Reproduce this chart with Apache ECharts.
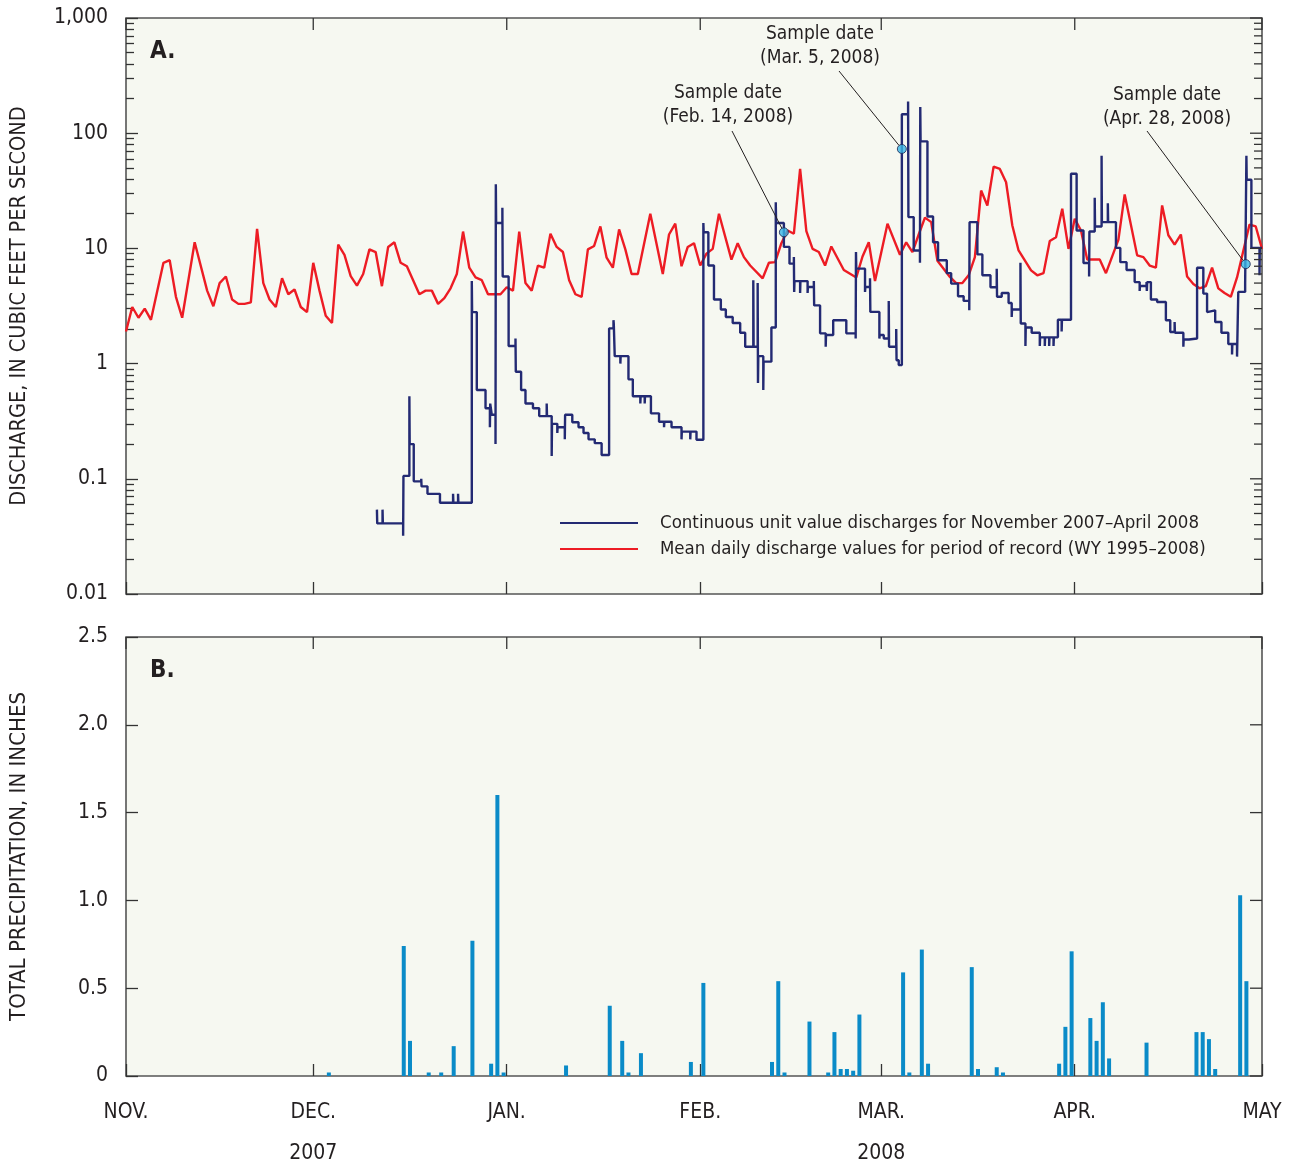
<!DOCTYPE html>
<html>
<head>
<meta charset="utf-8">
<script src="https://cdn.jsdelivr.net/npm/echarts@6.0.0/dist/echarts.min.js"></script>
<style>
  html, body { margin: 0; padding: 0; background: #fff; }
  #chart { width: 1299px; height: 1164px; }
</style>
</head>
<body>
<div id="chart"></div>
<script>
// days are counted from Nov. 1, 2007
const monthDays = [0, 30, 61, 92, 121, 152, 182];
const monthLabels = ['NOV.', 'DEC.', 'JAN.', 'FEB.', 'MAR.', 'APR.', 'MAY'];
const yearLabels = ['', '2007', '', '', '2008', '', ''];
const discharLabels = ['0.01', '0.1', '1', '10', '100', '1,000'];
const precipTicks = [0, 0.5, 1, 1.5, 2, 2.5];

// mean daily discharge, period of record
const redDays = [0, 1, 2, 3, 4, 6, 7, 8, 9, 11, 13, 14, 15, 16, 17, 18, 19, 20, 21, 22,
  23, 24, 25, 26, 27, 28, 29, 30, 31, 32, 33, 34, 35, 36, 37, 38, 39, 40, 41, 42,
  43, 44, 45, 46, 47, 48, 49, 50, 51, 52, 53, 54, 55, 56, 57, 58, 60, 61, 62, 63,
  64, 65, 66, 67, 68, 69, 70, 71, 72, 73, 74, 75, 76, 77, 78, 79, 80, 81, 82, 84,
  86, 87, 88, 89, 90, 91, 92, 93, 94, 95, 97, 98, 99, 100, 102, 103, 104, 105, 106, 107,
  108, 109, 110, 111, 112, 113, 115, 117, 118, 119, 120, 122, 124, 125, 126, 127, 128, 129, 130, 132,
  133, 134, 135, 136, 137, 138, 139, 140, 141, 142, 143, 145, 146, 147, 148, 149, 150, 151, 152, 153,
  154, 156, 157, 159, 160, 162, 163, 164, 165, 166, 167, 168, 169, 170, 171, 172, 173, 174, 175, 176,
  177, 178, 180, 181, 182];
const redValues = [1.9, 3.1, 2.5, 3.0, 2.4, 7.5, 7.9, 3.8, 2.5, 11.3, 4.3, 3.15, 5.0, 5.7, 3.6, 3.3, 3.3, 3.4, 14.8, 5.0,
  3.6, 3.1, 5.5, 4.0, 4.4, 3.1, 2.8, 7.5, 4.3, 2.6, 2.25, 10.8, 8.8, 5.75, 4.75, 6.0, 9.8, 9.3, 4.7, 10.3,
  11.3, 7.5, 7.0, 5.3, 4.0, 4.3, 4.3, 3.3, 3.7, 4.5, 6.0, 14.0, 6.8, 5.6, 5.3, 4.0, 4.0, 4.6, 4.3, 14.0,
  5.0, 4.3, 7.1, 6.8, 13.4, 10.3, 9.3, 5.3, 4.0, 3.8, 9.8, 10.5, 15.5, 8.3, 6.8, 14.6, 9.8, 6.0, 6.0, 20,
  6.0, 13.2, 16.4, 7.0, 10.3, 11.1, 7.1, 9.0, 9.9, 20, 8.0, 11.1, 8.4, 7.1, 5.5, 7.5, 7.6, 11.1, 14.3, 13.4,
  49, 14.1, 9.9, 9.3, 7.1, 10.4, 6.5, 5.6, 8.5, 11.3, 5.2, 16.4, 8.8, 11.3, 9.3, 13.2, 18.5, 16.9, 7.8, 5.65,
  5.0, 5.0, 5.84, 8.4, 31.8, 23.6, 51.3, 49, 37.5, 15.8, 9.6, 6.45, 5.84, 6.1, 11.6, 12.5, 22.1, 9.9, 18.1, 14.3,
  8.0, 8.0, 6.1, 11.9, 29.4, 8.7, 8.4, 7.1, 6.8, 23.6, 13, 10.8, 13.2, 5.7, 4.9, 4.5, 4.7, 6.8, 4.5, 4.1,
  3.8, 5.6, 16.1, 15.5, 9.9];

// continuous unit values, Nov. 2007 - Apr. 2008 (step line)
const blueDays = [40.2, 40.25, 41.1, 41.15, 44.4, 44.45, 45.4, 45.45, 46.1, 47.3, 47.35, 48.3, 50.3, 52.4, 52.45, 53.2, 53.25,
  55.4, 55.45, 56.2, 57.6, 58.3, 58.35, 58.6, 59.2, 59.25, 59.3, 60.3, 60.35, 61.3, 62.4, 62.45, 63.3, 64.0, 65.2,
  66.2, 67.4, 67.45, 68.2, 68.25, 69.1, 69.15, 70.3, 70.35, 71.5, 72.5, 73.3, 74.1, 75.1, 76.2, 77.4, 78.1, 78.15,
  78.3, 79.2, 79.25, 80.5, 81.2, 82.4, 82.45, 83.1, 83.15, 84.1, 85.4, 86.2, 86.25, 87.4, 89.0, 89.05, 90.4, 90.45,
  91.4, 92.5, 92.55, 93.3, 94.2, 95.3, 96.1, 97.2, 98.4, 99.2, 100.5, 100.55, 101.2, 101.25, 101.3, 102.1, 102.15,
  103.4, 104.1, 104.15, 105.4, 106.3, 107.0, 107.05, 107.1, 108.0, 108.05, 109.2, 109.25, 110.2, 110.25, 111.2,
  112.1, 112.15, 113.3, 115.4, 116.9, 116.95, 117.0, 118.4, 118.45, 119.2, 119.25, 120.7, 120.75, 121.4, 122.2,
  122.25, 123.4, 123.45, 123.8, 124.3, 125.3, 125.35, 126.2, 127.2, 127.25, 127.3, 128.4, 129.3, 130.1, 131.5,
  132.2, 133.3, 134.2, 135.1, 135.15, 136.4, 137.2, 138.5, 139.5, 139.55, 140.3, 141.4, 141.9, 141.95, 143.3,
  143.35, 144.1, 144.15, 145.1, 146.4, 146.45, 147.2, 147.25, 147.9, 147.95, 148.6, 148.65, 149.3, 149.9, 149.95,
  151.4, 152.3, 153.4, 154.3, 154.35, 155.2, 155.25, 156.3, 156.35, 157.3, 157.35, 158.6, 159.3, 160.3, 161.6,
  162.4, 162.45, 163.5, 163.55, 163.6, 164.2, 165.2, 166.6, 167.3, 168.0, 168.05, 169.4, 169.45, 170.3, 171.6,
  172.6, 173.2, 173.25, 174.5, 175.5, 176.6, 177.2, 177.25, 178.0, 178.2, 179.3, 179.5, 179.55, 180.3, 181.6,
  181.65, 182];
const blueValues = [0.054, 0.041, 0.054, 0.041, 0.032, 0.106, 0.52, 0.2, 0.095, 0.1, 0.086, 0.074, 0.062, 0.074, 0.062, 0.074, 0.062,
  5.2, 2.8, 0.59, 0.41, 0.28, 0.45, 0.36, 0.2, 36, 16.6, 22.5, 5.7, 1.42, 1.65, 0.85, 0.59, 0.45, 0.41,
  0.35, 0.45, 0.35, 0.158, 0.3, 0.25, 0.28, 0.22, 0.36, 0.31, 0.28, 0.25, 0.22, 0.204, 0.161, 2.02, 2.38, 2.2,
  1.16, 1.0, 1.16, 0.73, 0.52, 0.45, 0.52, 0.45, 0.52, 0.37, 0.313, 0.28, 0.313, 0.28, 0.22, 0.257, 0.22, 0.257,
  0.218, 16.6, 13.8, 7.1, 3.6, 2.95, 2.54, 2.25, 1.85, 1.4, 5.3, 1.4, 5.0, 0.68, 1.16, 0.59, 1.04,
  2.06, 25.2, 16.6, 10.3, 7.37, 8.4, 4.19, 5.2, 4.1, 5.2, 4.1, 4.62, 5.2, 3.2, 1.83,
  1.4, 1.77, 2.38, 1.83, 1.65, 9.3, 6.67, 4.19, 4.62, 5.5, 2.81, 1.65, 1.77, 1.65, 3.5,
  1.4, 2.0, 1.07, 0.97, 146, 188, 18.7, 9.6, 7.5, 169, 85, 18.9, 11.3, 7.9, 6.1,
  4.95, 3.84, 3.5, 2.9, 16.9, 8.87, 5.84, 4.6, 6.67, 3.8, 4.1, 3.36, 2.54, 2.95, 7.5,
  2.23, 1.42, 2.06, 1.85, 1.42, 1.69, 1.42, 1.69, 1.42, 1.69, 1.42, 1.69, 2.4, 1.9, 2.4,
  44.4, 14.3, 7.46, 5.7, 14, 27.5, 15.5, 63.8, 16.9, 24.7, 16.9, 10.1, 7.6, 6.5, 5.1,
  4.27, 4.72, 5.1, 4.27, 5.1, 3.6, 3.43, 2.38, 1.88, 2.3, 1.85, 1.4, 1.62, 1.65, 6.8,
  4.05, 2.8, 2.9, 2.3, 1.85, 1.48, 1.2, 1.48, 1.15, 4.19, 4.95, 63.8, 39.4, 10.1, 5.84,
  10.1, 10.1];

// sample dates
const sampleDays = [105.4, 124.3, 179.4];
const sampleValues = [13.8, 73, 7.3];
const sampleLabels = ['Sample date\n(Feb. 14, 2008)', 'Sample date\n(Mar. 5, 2008)', 'Sample date\n(Apr. 28, 2008)'];

// daily total precipitation, inches
const precipDays = [32, 44, 45, 48, 50, 52, 55, 58, 59, 60, 70, 77, 79, 80, 82, 90, 92, 103, 104, 105,
  109, 112, 113, 114, 115, 116, 117, 124, 125, 127, 128, 135, 136, 139, 140, 149, 150, 151, 154, 155,
  156, 157, 163, 171, 172, 173, 174, 178, 179];
const precipValues = [0.02, 0.74, 0.20, 0.02, 0.02, 0.17, 0.77, 0.07, 1.60, 0.02, 0.06, 0.40, 0.20, 0.02, 0.13, 0.08, 0.53, 0.08, 0.54, 0.02,
  0.31, 0.02, 0.25, 0.04, 0.04, 0.03, 0.35, 0.59, 0.02, 0.72, 0.07, 0.62, 0.04, 0.05, 0.02, 0.07, 0.28, 0.71, 0.33, 0.20,
  0.42, 0.10, 0.19, 0.25, 0.25, 0.21, 0.04, 1.03, 0.54];

const BLUE_NAME = 'Continuous unit value discharges for November 2007\u2013April 2008';
const RED_NAME = 'Mean daily discharge values for period of record (WY 1995\u20132008)';
const FONT = "'Liberation Sans Narrow', 'DejaVu Sans Condensed', 'Arial Narrow', sans-serif";
const INK = '#231f20';
const TICK = { color: '#333', width: 1.3 };

const G_LEFT = 126, G_RIGHT = 1262;
const TOP_A = 18, H_A = 576, TOP_B = 637, H_B = 439;

const minorLog = [];
for (let e = -2; e < 3; e++) {
  for (let k = 2; k <= 9; k++) minorLog.push(e + Math.log10(k));
}

const chart = echarts.init(document.getElementById('chart'));

function monthAxis(grid, labels) {
  return {
    type: 'value', gridIndex: grid, position: 'bottom', min: 0, max: 182,
    axisLine: { show: false, onZero: false },
    splitLine: { show: false },
    axisTick: { show: true, inside: true, length: 12, customValues: monthDays, lineStyle: TICK },
    axisLabel: labels ? {
      show: true, customValues: monthDays, margin: 16,
      fontFamily: FONT, fontSize: 21, color: INK, lineHeight: 41,
      formatter: function (v) {
        const i = monthDays.indexOf(v);
        return yearLabels[i] ? monthLabels[i] + '\n' + yearLabels[i] : monthLabels[i];
      }
    } : { show: false }
  };
}

const gridBase = {
  left: G_LEFT, width: G_RIGHT - G_LEFT, show: true, containLabel: false, outerBoundsMode: 'none',
  backgroundColor: '#f6f8f1', borderColor: '#555', borderWidth: 1.6
};

const option = {
  animation: false,
  backgroundColor: '#fff',
  grid: [
    Object.assign({ top: TOP_A, height: H_A }, gridBase),
    Object.assign({ top: TOP_B, height: H_B }, gridBase)
  ],
  xAxis: [monthAxis(0, false), monthAxis(1, true)],
  yAxis: [
    {
      type: 'log', gridIndex: 0, position: 'left', min: 0.01, max: 1000, logBase: 10,
      name: 'DISCHARGE, IN CUBIC FEET PER SECOND', nameLocation: 'middle', nameGap: 96,
      nameTextStyle: { fontFamily: FONT, fontSize: 21.5, color: INK },
      axisLine: { show: false, onZero: false }, splitLine: { show: false }, minorTick: { show: false },
      axisTick: { show: true, inside: true, length: 12, lineStyle: TICK },
      axisLabel: {
        margin: 18, fontFamily: FONT, fontSize: 21, color: INK,
        formatter: function (v) { return discharLabels[Math.round(Math.log10(v)) + 2]; }
      }
    },
    {
      // minor log ticks (positions in log10 units)
      type: 'value', gridIndex: 0, position: 'left', min: -2, max: 3,
      axisLine: { show: false, onZero: false }, splitLine: { show: false }, axisLabel: { show: false },
      axisTick: { show: true, inside: true, length: 8, customValues: minorLog, lineStyle: TICK }
    },
    {
      type: 'value', gridIndex: 1, position: 'left', min: 0, max: 2.5, interval: 0.5,
      name: 'TOTAL PRECIPITATION, IN INCHES', nameLocation: 'middle', nameGap: 96,
      nameTextStyle: { fontFamily: FONT, fontSize: 22, color: INK },
      axisLine: { show: false, onZero: false }, splitLine: { show: false },
      axisTick: { show: true, inside: true, length: 12, lineStyle: TICK },
      axisLabel: {
        margin: 18, fontFamily: FONT, fontSize: 21, color: INK,
        formatter: function (v) { return v === 0 ? '0' : v.toFixed(1); }
      }
    }
  ],
  legend: {
    data: [BLUE_NAME, RED_NAME],
    orient: 'vertical', left: 560, top: 513, padding: 0,
    itemWidth: 78, itemHeight: 2, itemGap: 6, icon: 'rect',
    textStyle: { fontFamily: FONT, fontSize: 18.5, color: INK, lineHeight: 20, padding: [0, 0, 0, 17] }
  },
  series: [
    {
      name: RED_NAME, type: 'line', xAxisIndex: 0, yAxisIndex: 0,
      data: redDays.map((d, i) => [d, redValues[i]]),
      showSymbol: false, color: '#ed1c24', lineStyle: { width: 2.4 }, z: 2
    },
    {
      name: BLUE_NAME, type: 'line', step: 'end', xAxisIndex: 0, yAxisIndex: 0,
      data: blueDays.map((d, i) => [d, blueValues[i]]),
      showSymbol: false, color: '#232a73', lineStyle: { width: 2.4 }, z: 3
    },
    {
      name: 'Sample', type: 'scatter', xAxisIndex: 0, yAxisIndex: 0,
      data: sampleDays.map((d, i) => [d, sampleValues[i]]),
      symbolSize: 9, itemStyle: { color: '#3ab5e6', borderColor: '#1b2350', borderWidth: 1 }, z: 5
    },
    {
      name: 'Precipitation', type: 'bar', xAxisIndex: 1, yAxisIndex: 2,
      data: precipDays.map((d, i) => [d + 0.5, precipValues[i]]),
      barWidth: 4, color: '#0a8bc8'
    }
  ]
};

chart.setOption(option);

// annotation text placement (pixels) and leader start points
const noteCenters = [[728, 105], [820, 46], [1167, 107]];
const leaderStarts = [[732, 131], [839, 71], [1147, 131]];
const NOTE_FONT = "19px 'Liberation Sans Narrow', 'DejaVu Sans Condensed', sans-serif";
const PANEL_FONT = "bold 24px 'Liberation Sans Narrow', 'DejaVu Sans Condensed', sans-serif";

const graphics = [
  { type: 'text', x: 150, y: 52, style: { text: 'A.', font: PANEL_FONT, fill: INK, verticalAlign: 'middle', textVerticalAlign: 'middle' } },
  { type: 'text', x: 150, y: 671, style: { text: 'B.', font: PANEL_FONT, fill: INK, verticalAlign: 'middle', textVerticalAlign: 'middle' } }
];

function tick(x1, y1, x2, y2) {
  graphics.push({ type: 'line', z: 8, silent: true, shape: { x1: x1, y1: y1, x2: x2, y2: y2 }, style: { stroke: TICK.color, lineWidth: TICK.width } });
}
// mirrored ticks on the top and right frame edges
monthDays.forEach(function (d) {
  const x = chart.convertToPixel({ xAxisIndex: 0 }, d);
  tick(x, TOP_A, x, TOP_A + 12);
  tick(x, TOP_B, x, TOP_B + 12);
});
discharLabels.forEach(function (lab, i) {
  const y = chart.convertToPixel({ yAxisIndex: 1 }, i - 2);
  tick(G_RIGHT - 12, y, G_RIGHT, y);
});
minorLog.forEach(function (v) {
  const y = chart.convertToPixel({ yAxisIndex: 1 }, v);
  tick(G_RIGHT - 8, y, G_RIGHT, y);
});
precipTicks.forEach(function (v) {
  const y = chart.convertToPixel({ yAxisIndex: 2 }, v);
  tick(G_RIGHT - 12, y, G_RIGHT, y);
});

sampleDays.forEach(function (d, i) {
  const p = chart.convertToPixel({ xAxisIndex: 0, yAxisIndex: 0 }, [d, sampleValues[i]]);
  const s = leaderStarts[i];
  const dx = p[0] - s[0], dy = p[1] - s[1];
  const len = Math.sqrt(dx * dx + dy * dy);
  graphics.push({
    type: 'line', z: 10,
    shape: { x1: s[0], y1: s[1], x2: p[0] - dx / len * 4.5, y2: p[1] - dy / len * 4.5 },
    style: { stroke: INK, lineWidth: 1 }
  });
  graphics.push({
    type: 'text', z: 10, x: noteCenters[i][0], y: noteCenters[i][1],
    style: {
      text: sampleLabels[i], fill: INK, font: NOTE_FONT,
      lineHeight: 24, align: 'center', textAlign: 'center', verticalAlign: 'middle', textVerticalAlign: 'middle'
    }
  });
});
chart.setOption({ graphic: graphics });
</script>
</body>
</html>
